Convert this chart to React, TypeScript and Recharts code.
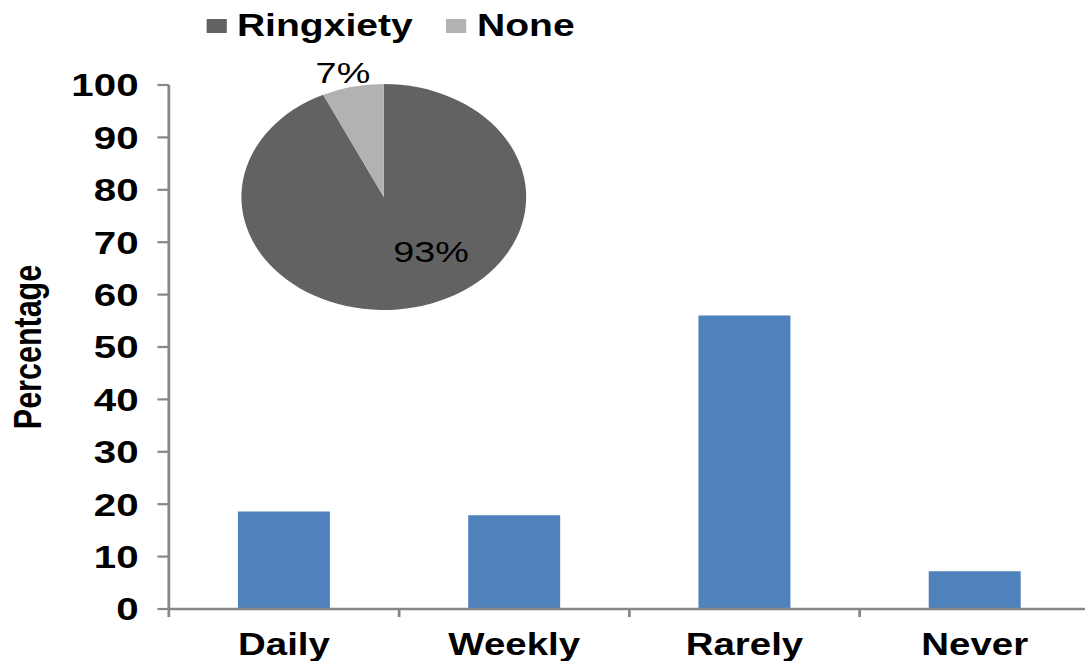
import React from 'react';
import { BarChart, Bar, XAxis, YAxis, PieChart, Pie, Cell, Legend, Label } from 'recharts';

// Bar series: how often respondents experience ringxiety
const categories = ['Daily', 'Weekly', 'Rarely', 'Never'];
const percentages = [18.6, 17.9, 56.0, 7.2];
const yTicks = [0, 10, 20, 30, 40, 50, 60, 70, 80, 90, 100];

// Inset pie: share of respondents with / without ringxiety
const pieNames = ['Ringxiety', 'None'];
const pieValues = [93, 7];
const pieColors = ['#626262', '#B2B2B2'];

const barData = categories.map((category, i) => ({ category, value: percentages[i] }));
const pieData = pieNames.map((name, i) => ({ name, value: pieValues[i] }));

// The chart is laid out narrow and widened horizontally as a whole.
const STRETCH = 1.26;
const W = 865;
const H = 661;
const FONT = '"Liberation Sans", Arial, Helvetica, sans-serif';
const AXIS = '#878787';
const BAR = '#4F81BD';

// Pie label placement, relative to the pie's radius
const labelPlacement: Record<string, [number, number]> = {
  Ringxiety: [0.332, 0.573],
  None: [-0.287, -1.009],
};

const CategoryTick = (props: any) => {
  const { x, y, payload } = props;
  const half = payload && typeof payload.offset === 'number' ? payload.offset : 0;
  return (
    <g>
      <line x1={x - half} x2={x - half} y1={y - 8} y2={y} stroke={AXIS} strokeWidth={2.2} />
      <text
        x={x}
        y={y + 38}
        textAnchor="middle"
        fontFamily={FONT}
        fontWeight="bold"
        fontSize={30.5}
        fill="#000"
      >
        {payload.value}
      </text>
    </g>
  );
};

const renderPieLabel = (props: any) => {
  const { cx, cy, outerRadius, percent, name } = props;
  const [fx, fy] = labelPlacement[name] || [0, 0];
  return (
    <text
      x={cx + fx * outerRadius}
      y={cy + fy * outerRadius}
      textAnchor="middle"
      fontFamily={FONT}
      fontSize={30}
      fill="#000"
    >
      {`${Math.round(percent * 100)}%`}
    </text>
  );
};

const renderLegend = (props: any) => {
  const items = [...(props.payload || [])].sort(
    (a: any, b: any) => pieNames.indexOf(a.value) - pieNames.indexOf(b.value)
  );
  return (
    <div style={{ display: 'flex', alignItems: 'center', paddingLeft: 163.5, paddingTop: 11 }}>
      {items.map((entry: any) => (
        <div
          key={entry.value}
          style={{ display: 'flex', alignItems: 'center', marginRight: 26.5, height: 30 }}
        >
          <span
            style={{
              display: 'inline-block',
              width: 16,
              height: 14,
              background: pieColors[pieNames.indexOf(entry.value)] || entry.color,
              marginRight: 8.5,
            }}
          />
          <span
            style={{
              fontFamily: FONT,
              fontWeight: 'bold',
              fontSize: 31,
              lineHeight: '30px',
              color: '#000',
            }}
          >
            {entry.value}
          </span>
        </div>
      ))}
    </div>
  );
};

const AxisTitle = (props: any) => {
  const vb = props.viewBox || { x: 0, y: 85, width: 134, height: 524 };
  const cx = 22;
  const cy = vb.y + vb.height / 2;
  return (
    <text
      x={cx}
      y={cy}
      transform={`rotate(-90 ${cx} ${cy})`}
      textAnchor="middle"
      dominantBaseline="central"
      fontFamily={FONT}
      fontWeight="bold"
      fontSize={30.5}
      fill="#000"
    >
      Percentage
    </text>
  );
};

export default function App() {
  return (
    <div
      style={{
        position: 'fixed',
        left: 0,
        top: 0,
        width: 1085,
        height: 661,
        overflow: 'hidden',
        background: '#fff',
      }}
    >
      <div
        style={{
          position: 'relative',
          width: W,
          height: H,
          transform: `scaleX(${STRETCH})`,
          transformOrigin: '0 0',
        }}
      >
        <BarChart
          width={W}
          height={H}
          data={barData}
          margin={{ top: 85, right: 0, bottom: 0, left: 0 }}
          barCategoryGap="30%"
        >
          <XAxis
            dataKey="category"
            height={52}
            interval={0}
            tickLine={false}
            tickSize={8}
            tickMargin={0}
            axisLine={{ stroke: AXIS, strokeWidth: 2.5 }}
            tick={<CategoryTick />}
          />
          <YAxis
            width={134}
            domain={[0, 100]}
            ticks={yTicks}
            interval={0}
            tickSize={9}
            tickMargin={15}
            axisLine={{ stroke: AXIS, strokeWidth: 2.2 }}
            tickLine={{ stroke: AXIS, strokeWidth: 2.2 }}
            tick={{ fontFamily: FONT, fontWeight: 'bold', fontSize: 32, fill: '#000' }}
          >
            <Label content={<AxisTitle />} />
          </YAxis>
          <Bar dataKey="value" fill={BAR} isAnimationActive={false} />
        </BarChart>
        <div style={{ position: 'absolute', left: 0, top: 0 }}>
          <PieChart width={W} height={H} margin={{ top: 0, right: 0, bottom: 0, left: 0 }}>
            <Pie
              data={pieData}
              dataKey="value"
              nameKey="name"
              cx={304.6}
              cy={197}
              outerRadius={113}
              startAngle={90}
              endAngle={-270}
              stroke="none"
              isAnimationActive={false}
              label={renderPieLabel}
              labelLine={false}
            >
              {pieData.map((d, i) => (
                <Cell key={d.name} fill={pieColors[i]} />
              ))}
            </Pie>
            <Legend
              verticalAlign="middle"
              align="center"
              content={renderLegend}
              wrapperStyle={{ top: 0, left: 0, width: W }}
            />
          </PieChart>
        </div>
      </div>
    </div>
  );
}
